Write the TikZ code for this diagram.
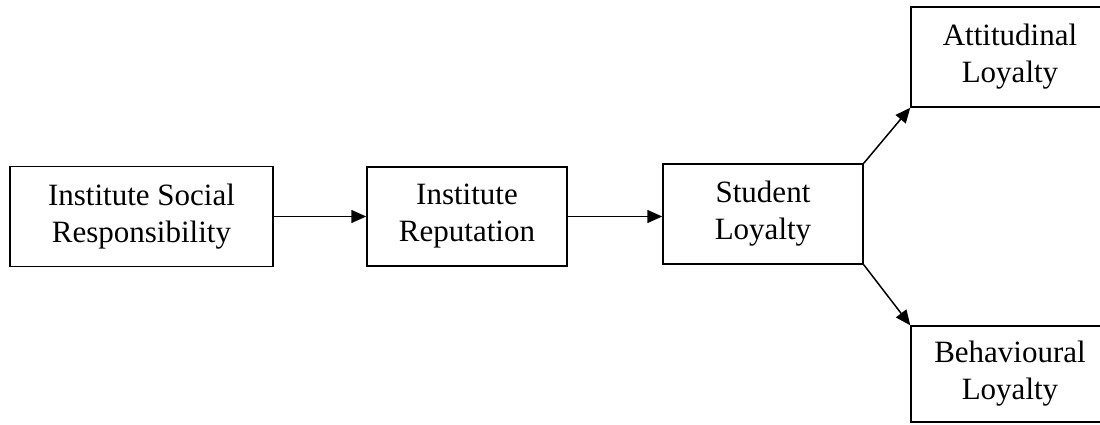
\documentclass[tikz,border=0pt]{standalone}
\usepackage{fontspec}
\setmainfont{Liberation Serif}
\usetikzlibrary{arrows.meta}
\begin{document}
\begin{tikzpicture}[x=1pt,y=-1pt,
  box/.style={draw,line width=1.5pt,rectangle,align=center,inner sep=0pt,
    font=\fontsize{31}{37}\selectfont},
  conn/.style={line width=1.5pt,-{Triangle[length=15pt,width=13pt]}}]
\useasboundingbox (0,0) rectangle (1100,425);
\node[box,minimum width=263pt,minimum height=100pt] (isr) at (141.5,216.5) {Institute Social\\Responsibility};
\node[box,minimum width=200pt,minimum height=99pt] (ir) at (467,216.5) {Institute\\Reputation};
\node[box,minimum width=200pt,minimum height=100pt] (sl) at (763,214) {Student\\Loyalty};
\node[box,minimum width=198pt,minimum height=100pt] (al) at (1010,57) {Attitudinal\\Loyalty};
\node[box,minimum width=198pt,minimum height=96pt] (bl) at (1010,374) {Behavioural\\Loyalty};
\draw[conn] (isr) -- (ir);
\draw[conn] (ir.east) -- (ir.east -| sl.west);
\draw[conn] (sl.north east) -- (al.south west);
\draw[conn] (sl.south east) -- (bl.north west);
\end{tikzpicture}
\end{document}
